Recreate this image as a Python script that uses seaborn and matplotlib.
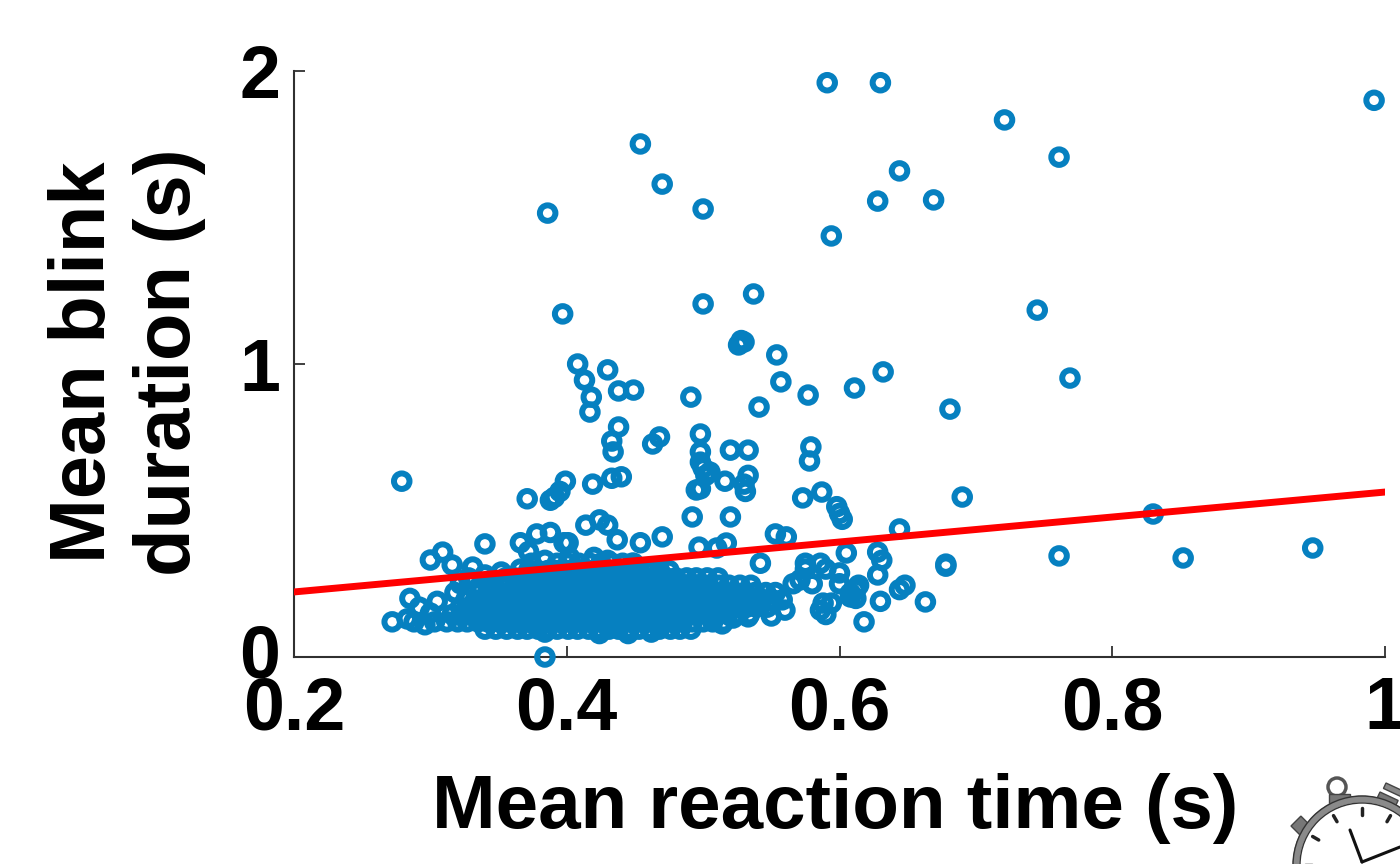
import numpy as np
import pandas as pd
import seaborn as sns
from matplotlib import pyplot as plt
from matplotlib import patches as mp
from matplotlib.transforms import ScaledTranslation

# scattered points above the main cloud (reaction time, blink duration)
upper_points = [(.992,1.90),(.591,1.96),(.630,1.96),(.721,1.833),(.761,1.706),(.454,1.751),(.470,1.614),
                (.386,1.515),(.500,1.529),(.594,1.437),(.628,1.556),(.644,1.659),(.669,1.56),(.500,1.205),
                (.537,1.239),(.397,1.171),(.745,1.184),(.769,.952),(.632,.973),(.611,.918),(.681,.846),
                (.554,1.031),(.557,.939),(.577,.894),(.541,.853),(.526,1.065),(.528,1.08),(.530,1.075),
                (.491,.887),(.408,1.0),(.413,.945),(.418,.887),(.417,.836),(.430,.98),(.438,.908),
                (.449,.911),(.438,.785),(.433,.737),(.434,.70),(.463,.727),(.468,.751)]
middle_points = [(.498,.761),(.498,.70),(.498,.665),(.500,.645),(.505,.631),(.502,.62),(.520,.706),(.533,.706),
                 (.533,.62),(.530,.59),(.531,.565),(.516,.60),(.579,.717),(.578,.669),(.573,.543),(.587,.563),
                 (.598,.513),(.600,.49),(.602,.47),(.690,.546),(.644,.437),(.830,.488),(.761,.345),(.852,.338),
                 (.947,.372),(.678,.317),(.678,.31),(.279,.60),(.371,.54),(.391,.545),(.399,.60),(.395,.565),
                 (.388,.535),(.419,.59),(.433,.61),(.440,.615),(.430,.45),(.492,.478),(.495,.57),(.498,.574),
                 (.414,.45),(.424,.468),(.401,.39),(.520,.478),(.470,.41),(.454,.39),(.437,.40),(.497,.375),
                 (.517,.389),(.510,.372),(.553,.42),(.561,.41),(.542,.32),(.575,.32),(.586,.32),(.600,.287),
                 (.605,.355),(.340,.386),(.309,.358),(.300,.331),(.316,.314),(.331,.307),(.384,.0),(.366,.39),
                 (.378,.42),(.388,.425),(.398,.39),(.372,.36)]

# edges of the dense cloud
cloud_edge = [(.272,.12),(.283,.13),(.285,.20),(.288,.12),(.292,.17),(.296,.11),(.300,.15),(.303,.12),(.305,.19),
              (.318,.22),(.322,.25),(.328,.27),(.336,.24),(.340,.28),(.352,.29),(.366,.30),(.374,.32),(.384,.33),
              (.402,.34),(.420,.34),(.430,.33),(.448,.32),(.464,.30),(.514,.113),(.522,.133),(.533,.137),
              (.550,.14),(.560,.16),(.566,.25),(.571,.263),(.575,.30),(.580,.25),(.586,.16),(.588,.184),
              (.590,.145),(.594,.184),(.590,.30),(.600,.25),(.608,.218),(.612,.23),(.614,.245),(.608,.205),
              (.618,.12),(.628,.358),(.631,.33),(.628,.28),(.630,.19),(.644,.23),(.648,.245),(.663,.188),(.612,.20),
              (.424,.08),(.462,.085),(.384,.085),(.445,.08)]

# rows of the filled part of the cloud: blink duration, then the reaction times on that row
row_y = [.095, .12, .145, .17, .195, .22, .245, .27, .295, .32]
row_x = [
    [.340,.348,.356,.364,.371,.379,.386,.393,.401,.408,.416,.423,.431,.438,.446,.453,.461,.468,.476,.483,.491],
    [.312,.320,.327,.335,.342,.350,.357,.365,.372,.380,.387,.395,.402,.410,.417,.425,.432,.440,.447,.455,.462,.470,.477,.485,.492,.500,.507,.515],
    [.316,.323,.331,.338,.346,.353,.361,.368,.376,.383,.391,.398,.406,.413,.421,.428,.436,.443,.451,.458,.466,.473,.481,.488,.496,.503,.511,.518,.526,.534],
    [.322,.329,.337,.344,.352,.359,.367,.374,.382,.389,.397,.404,.412,.419,.427,.434,.442,.449,.457,.464,.472,.479,.487,.494,.502,.509,.517,.524,.532,.539,.547],
    [.326,.333,.341,.348,.356,.363,.371,.378,.386,.393,.401,.408,.416,.423,.431,.438,.446,.453,.461,.468,.476,.483,.491,.498,.506,.513,.521,.528,.536,.543,.551,.558],
    [.336,.343,.351,.358,.366,.373,.381,.388,.396,.403,.411,.418,.426,.433,.441,.448,.456,.463,.471,.478,.486,.493,.501,.508,.516,.523,.531,.538,.546,.553],
    [.342,.347,.354,.362,.369,.377,.384,.392,.399,.407,.414,.422,.429,.437,.444,.452,.459,.467,.474,.482,.489,.497,.504,.512,.519,.527,.535],
    [.355,.362,.368,.375,.383,.390,.398,.405,.413,.420,.428,.435,.443,.450,.458,.465,.473,.480,.488,.495,.503,.511],
    [.372,.379,.386,.393,.401,.408,.416,.423,.431,.438,.446,.453,.461,.468,.475],
    [.393,.401,.409,.417,.425,.433,.441,.449],
]

# fitted line end points
fit_x = [.2, 1.0]
fit_y = [.222, .563]

x_ticks = [.2, .4, .6, .8, 1.0]
x_tick_labels = ['0.2', '0.4', '0.6', '0.8', '1']
y_ticks = [0, 1, 2]

rows = [(x, y) for y, xs in zip(row_y, row_x) for x in xs]
df = pd.DataFrame(upper_points + middle_points + cloud_edge + rows, columns=['rt', 'blink'])
fit = pd.DataFrame({'rt': fit_x, 'blink': fit_y})

sns.set_style('white')
plt.rcParams['font.family'] = ['Liberation Sans', 'DejaVu Sans']

fig = plt.figure(figsize=(14, 8.64), dpi=100)
ax = fig.add_axes([294/1400, 1-657/864, 1091/1400, 586/864])

sns.scatterplot(x='rt', y='blink', data=df, ax=ax, marker='o', s=125, facecolor='none',
                edgecolor='#0680c0', linewidth=4.3, clip_on=False, legend=False, zorder=3)
sns.lineplot(x='rt', y='blink', data=fit, ax=ax, color='#ff0000', linewidth=5, zorder=4,
             errorbar=None)

ax.set_xlim(.2, 1)
ax.set_ylim(0, 2)
ax.set_xticks(x_ticks)
ax.set_xticklabels(x_tick_labels)
ax.set_yticks(y_ticks)
sns.despine(ax=ax)
for s in ['left', 'bottom']:
    ax.spines[s].set_linewidth(1.5)
    ax.spines[s].set_color('#303030')
ax.tick_params(axis='both', direction='in', length=8, width=1.3, color='#303030', labelsize=53,
               bottom=True, left=True)
ax.tick_params(axis='x', pad=13)
ax.tick_params(axis='y', pad=10)
for t in ax.get_xticklabels() + ax.get_yticklabels():
    t.set_fontweight('bold')
    t.set_color('black')
# the 0 sits a little above its tick
zero = ax.get_yticklabels()[0]
zero.set_transform(zero.get_transform() + ScaledTranslation(0, .07, fig.dpi_scale_trans))

ax.set_xlabel('Mean reaction time (s)', fontsize=55, fontweight='bold', color='black')
ax.xaxis.set_label_coords((835-294)/1091, (657-828)/586, transform=ax.transAxes)
ax.xaxis.label.set_va('baseline')
ax.set_ylabel('Mean blink\nduration (s)', fontsize=56, fontweight='bold', color='black',
              linespacing=1.2)
ax.yaxis.set_label_coords((127-294)/1091, (657-362)/586)
ax.yaxis.label.set_va('center')

# stopwatch icon, cut off by the corner of the picture
ov = fig.add_axes([0, 0, 1, 1], zorder=5)
ov.set_xlim(0, 1400)
ov.set_ylim(864, 0)
ov.axis('off')
cx, cy = 1362, 865
ov.add_patch(mp.Circle((1337, 787), 9, fc='white', ec='#555555', lw=2.5))
ov.add_patch(mp.Rectangle((1329, 794), 21, 10, fc='#777777', ec='#444444', lw=1))
ov.add_patch(mp.Rectangle((1380, 792), 20, 12, angle=25, fc='#777777', ec='#444444', lw=1))
ov.add_patch(mp.Rectangle((1386, 783), 20, 6, angle=25, fc='#888888', ec='#444444', lw=1))
ov.add_patch(mp.Rectangle((1291, 826), 14, 17, angle=-45, fc='#777777', ec='#444444', lw=1))
ov.add_patch(mp.Circle((cx, cy), 66, fc='white', ec='#8a8a8a', lw=5))
ov.add_patch(mp.Circle((cx, cy), 69, fc='none', ec='#333333', lw=1))
ov.add_patch(mp.Circle((cx, cy), 62, fc='none', ec='#333333', lw=1))
for ang in np.arange(-90, 91, 30):
    a = np.deg2rad(ang)
    ov.plot([cx+50*np.sin(a), cx+57*np.sin(a)], [cy-50*np.cos(a), cy-57*np.cos(a)],
            color='#222222', lw=2.5, solid_capstyle='round')
ov.plot([cx, 1350], [cy-3, 830], color='#111111', lw=2.2)
ov.plot([cx, 1400], [cy-3, 847], color='#111111', lw=2.2)

fig.savefig('out.png', dpi=100)
